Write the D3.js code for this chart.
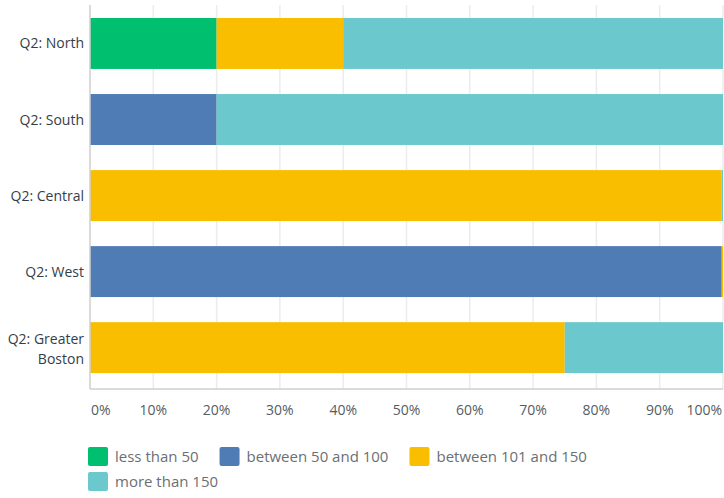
<!DOCTYPE html>
<html>
<head>
<meta charset="utf-8">
<script src="https://cdn.jsdelivr.net/npm/d3@7"></script>
<style>
  body { margin: 0; background: #fff; }
  svg { display: block; font-family: "Open Sans", "Noto Sans", sans-serif; }
</style>
</head>
<body>
<div id="chart"></div>
<script>
// chart data
const categories = ["Q2: North", "Q2: South", "Q2: Central", "Q2: West", "Q2: Greater Boston"];
const seriesNames = ["less than 50", "between 50 and 100", "between 101 and 150", "more than 150"];
const lessThan50 = [20, 0, 0, 0, 0];
const between50and100 = [0, 20, 0, 99.8, 0];
const between101and150 = [20, 0, 99.8, 0.2, 75];
const moreThan150 = [60, 80, 0.2, 0, 25];
const tickValues = [0, 10, 20, 30, 40, 50, 60, 70, 80, 90, 100];
const tickLabels = ["0%", "10%", "20%", "30%", "40%", "50%", "60%", "70%", "80%", "90%", "100%"];

const colors = ["#00BF6F", "#507CB6", "#F9BE00", "#6BC8CD"];

const chart_w = 724, chart_h = 498;
const plotLeft = 90, plotRight = 723, plotTop = 5, plotBottom = 389;

// rows for stacking
const rows = categories.map((c, i) => ({
  cat: c,
  s0: lessThan50[i], s1: between50and100[i], s2: between101and150[i], s3: moreThan150[i]
}));
const stacked = d3.stack().keys(["s0", "s1", "s2", "s3"])(rows);

const xScale = d3.scaleLinear().domain([0, 100]).range([plotLeft, plotRight]);
const yScale = d3.scaleBand()
  .domain(categories)
  .range([plotTop, plotBottom])
  .paddingInner(0.33)
  .paddingOuter(0.19)
  .align(0.45);

const svg = d3.select("#chart").append("svg")
  .attr("width", chart_w)
  .attr("height", chart_h);

// gridlines
svg.append("g")
  .selectAll("line")
  .data(tickValues.slice(1))
  .join("line")
  .attr("x1", d => xScale(d))
  .attr("x2", d => xScale(d))
  .attr("y1", plotTop)
  .attr("y2", plotBottom)
  .attr("stroke", "#ececec")
  .attr("stroke-width", 1.5);

// bars
svg.append("g")
  .selectAll("g")
  .data(stacked)
  .join("g")
  .attr("fill", (d, i) => colors[i])
  .selectAll("rect")
  .data(d => d)
  .join("rect")
  .attr("x", d => xScale(d[0]))
  .attr("width", d => xScale(d[1]) - xScale(d[0]))
  .attr("y", d => yScale(d.data.cat))
  .attr("height", yScale.bandwidth());

// axis lines
svg.append("line")
  .attr("x1", plotLeft).attr("x2", plotLeft)
  .attr("y1", plotTop).attr("y2", plotBottom)
  .attr("stroke", "#cfcfcf").attr("stroke-width", 1.5);
svg.append("line")
  .attr("x1", plotLeft).attr("x2", plotRight)
  .attr("y1", plotBottom).attr("y2", plotBottom)
  .attr("stroke", "#cfcfcf").attr("stroke-width", 1.5);

// x tick labels
svg.append("g")
  .selectAll("text")
  .data(tickValues)
  .join("text")
  .attr("x", (d, i) => i == 0 ? xScale(d) + 1 : (i == tickValues.length - 1 ? xScale(d) - 1 : xScale(d)))
  .attr("y", 415)
  .attr("text-anchor", (d, i) => i == 0 ? "start" : (i == tickValues.length - 1 ? "end" : "middle"))
  .attr("font-size", 14)
  .attr("fill", "#555c63")
  .text((d, i) => tickLabels[i]);

// y labels
const yLab = svg.append("g")
  .selectAll("text")
  .data(categories)
  .join("text")
  .attr("text-anchor", "end")
  .attr("font-size", 14)
  .attr("fill", "#333e48");

yLab.each(function(d) {
  const t = d3.select(this);
  const cy = yScale(d) + yScale.bandwidth() / 2;
  if (d == "Q2: Greater Boston") {
    t.append("tspan").attr("x", 84).attr("y", cy - 4).text("Q2: Greater");
    t.append("tspan").attr("x", 84).attr("y", cy + 16).text("Boston");
  } else {
    t.attr("x", 84).attr("y", cy + 5).text(d);
  }
});

// legend
const legend = svg.append("g");
let lx = 88, ly = 447;
seriesNames.forEach((name, i) => {
  if (i == 3) { lx = 88; ly = 472; }
  const g = legend.append("g").attr("transform", "translate(" + lx + "," + ly + ")");
  g.append("rect")
    .attr("width", 20).attr("height", 19)
    .attr("rx", 2)
    .attr("fill", colors[i]);
  const txt = g.append("text")
    .attr("x", 27).attr("y", 15)
    .attr("font-size", 15)
    .attr("fill", "#6b6f73")
    .text(name);
  lx += 27 + txt.node().getComputedTextLength() + 21;
});
</script>
</body>
</html>
